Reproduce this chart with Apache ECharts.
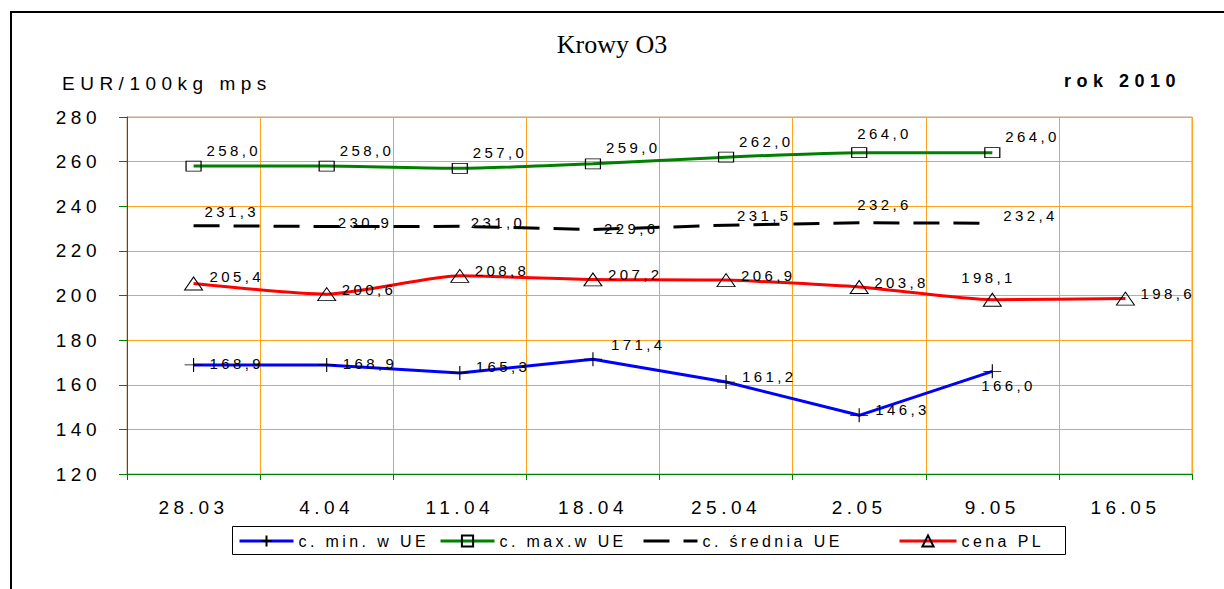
<!DOCTYPE html>
<html lang="pl">
<head>
<meta charset="UTF-8">
<title>Krowy O3</title>
<script src="https://cdn.jsdelivr.net/npm/echarts@6/dist/echarts.min.js"></script>
<style>
  html, body { margin: 0; padding: 0; background: #fff; }
  #chart { width: 1224px; height: 589px; }
</style>
</head>
<body>
<div id="chart"></div>
<script>
// dane
const categories = ['28.03', '4.04', '11.04', '18.04', '25.04', '2.05', '9.05', '16.05'];
const minUE = [168.9, 168.9, 165.3, 171.4, 161.2, 146.3, 166.0, null];
const maxUE = [258.0, 258.0, 257.0, 259.0, 262.0, 264.0, 264.0, null];
const avgUE = [231.3, 230.9, 231.0, 229.6, 231.5, 232.6, 232.4, null];
const plPrice = [205.4, 200.6, 208.8, 207.2, 206.9, 203.8, 198.1, 198.6];
const yMin = 120, yMax = 280, yStep = 20;

const FONT = 'Liberation Sans';
const gridColor = '#FFA31A';
const axisGreen = '#008000';

const fmt = v => v.toFixed(1).replace('.', ',');

// etykiety: przesuniecie domyslne + kilka wyjatkow
function withLabels(values, offset, special) {
  return values.map((v, i) => {
    if (v == null) return null;
    const off = (special && special[i]) || offset;
    return { value: v, label: { offset: off } };
  });
}

const crossSymbol = 'path://M0,5L10,5M5,0L5,10';
const baseLabel = {
  show: true, position: 'inside', align: 'left', verticalAlign: 'middle',
  color: '#000', fontSize: 15, fontFamily: FONT,
  formatter: p => fmt(p.value)
};

const chartDom = document.getElementById('chart');
const chart = echarts.init(chartDom, null, { renderer: 'svg' });

// odstepy miedzy literami jak w oryginale (svg text)
function spaceLetters() {
  chartDom.querySelectorAll('text').forEach(t => {
    const s = t.textContent;
    let ls = 3.4;
    if (s === 'Krowy O3') ls = 0;
    else if (s === 'EUR/100kg mps' || s === 'rok 2010') ls = 5.5;
    else if (categories.includes(s) || /^\d{3}$/.test(s)) ls = 4.5;
    t.style.letterSpacing = ls + 'px';
  });
}
chart.on('finished', spaceLetters);

const legendNames = ['c. min. w UE', 'c. max.w UE', 'c. średnia UE', 'cena PL'];
const legendLeft = [238, 439, 642, 898];

chart.setOption({
  animation: false,
  title: [
    { text: 'Krowy O3', left: 'center', top: 26,
      textStyle: { fontFamily: 'Liberation Serif', fontSize: 26, fontWeight: 'normal', color: '#000' } },
    { text: 'EUR/100kg mps', left: 57, top: 69,
      textStyle: { fontFamily: FONT, fontSize: 19, fontWeight: 'normal', color: '#000' } },
    { text: 'rok 2010', left: 1059, top: 67,
      textStyle: { fontFamily: FONT, fontSize: 18, fontWeight: 'bold', color: '#000' } }
  ],
  graphic: [
    { type: 'rect', shape: { x: 11, y: 12, width: 1300, height: 700 },
      style: { fill: 'none', stroke: '#000', lineWidth: 2 }, silent: true },
    { type: 'rect', shape: { x: 232.5, y: 526.5, width: 833, height: 28 },
      style: { fill: '#fff', stroke: '#000', lineWidth: 1 }, z: -1, silent: true }
  ],
  legend: legendNames.map((n, i) => ({
    data: [n], left: legendLeft[i], top: 533, padding: 0,
    itemWidth: i === 3 ? 57 : 54, itemHeight: 14, itemGap: 0,
    lineStyle: { width: 3 },
    textStyle: { fontFamily: FONT, fontSize: 16, color: '#000', padding: [0, 0, 0, 0] }
  })),
  grid: {
    left: 127, right: 32, top: 117, bottom: 115,
    show: true, borderColor: '#BFA27A', borderWidth: 1
  },
  xAxis: {
    type: 'category', data: categories, boundaryGap: true,
    axisLine: { show: true, lineStyle: { color: axisGreen, width: 1 } },
    axisTick: { show: true, interval: 0, length: 6, lineStyle: { color: axisGreen } },
    axisLabel: { interval: 0, margin: 24, fontSize: 19, fontFamily: FONT, color: '#000' },
    splitLine: { show: true, interval: 0, lineStyle: { color: gridColor, width: 1 } }
  },
  yAxis: {
    type: 'value', min: yMin, max: yMax, interval: yStep,
    axisLine: { show: true, lineStyle: { color: axisGreen, width: 1 } },
    axisTick: { show: true, length: 8, lineStyle: { color: axisGreen } },
    axisLabel: { margin: 26, fontSize: 19, fontFamily: FONT, color: '#000' },
    splitLine: { show: true, lineStyle: { color: gridColor, width: 1 } }
  },
  series: [
    {
      name: legendNames[0], type: 'line', z: 5,
      data: withLabels(minUE, [16, -6], { 0: [16, -1], 1: [16, -1], 3: [18, -15], 6: [-11, 14] }),
      symbol: crossSymbol, symbolSize: [18, 14],
      lineStyle: { color: '#0000FF', width: 3 },
      itemStyle: { color: 'rgba(0,0,0,0)', borderColor: '#000', borderWidth: 1 },
      label: baseLabel
    },
    {
      name: legendNames[1], type: 'line', z: 5, smooth: 0.2,
      data: withLabels(maxUE, [13, -16], { 5: [-2, -19] }),
      symbol: 'rect', symbolSize: [15, 10],
      lineStyle: { color: '#008000', width: 3 },
      itemStyle: { color: 'rgba(0,0,0,0)', borderColor: '#000', borderWidth: 1 },
      label: baseLabel
    },
    {
      name: legendNames[2], type: 'line', z: 4,
      data: withLabels(avgUE, [11, -8], { 0: [11, -14], 1: [11, -4], 2: [11, -4], 3: [11, -1], 4: [11, -10], 5: [-2, -18] }),
      symbol: 'circle', symbolSize: 1,
      lineStyle: { color: '#000', width: 3, type: [26, 14] },
      itemStyle: { color: 'rgba(0,0,0,0)', borderColor: 'rgba(0,0,0,0)' },
      label: baseLabel
    },
    {
      name: legendNames[3], type: 'line', z: 5, smooth: 0.2,
      data: withLabels(plPrice, [15, -5], { 0: [16, -7], 6: [-31, -22] }),
      symbol: 'triangle', symbolSize: [18, 13],
      lineStyle: { color: '#FF0000', width: 3 },
      itemStyle: { color: 'rgba(0,0,0,0)', borderColor: '#000', borderWidth: 1 },
      label: baseLabel
    }
  ]
});
spaceLetters();
setTimeout(spaceLetters, 0);
</script>
</body>
</html>
